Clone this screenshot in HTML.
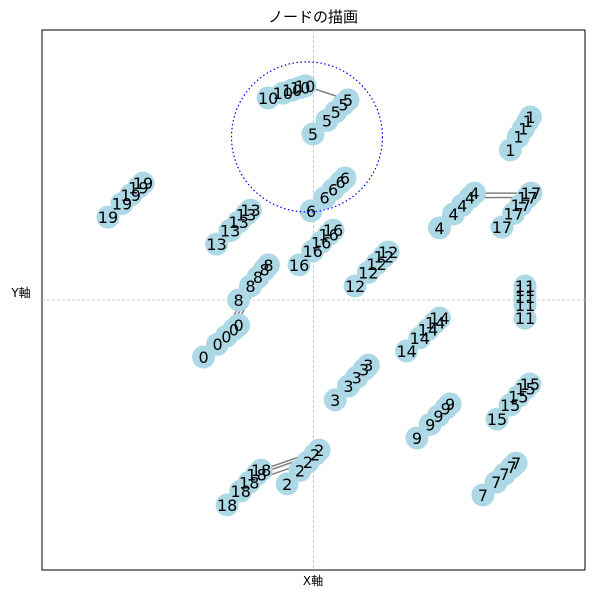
<!DOCTYPE html>
<html><head><meta charset="utf-8">
<style>
body{margin:0;background:#fff;}
svg text{font-family:"DejaVu Sans","Noto Sans CJK JP",sans-serif;}
</style></head>
<body>
<svg id="chart" width="594" height="598" viewBox="0 0 594 598">
<text x="313" y="22" font-size="15" text-anchor="middle">ノードの描画</text>
<rect x="42" y="30" width="543" height="540" fill="none" stroke="#000" stroke-width="1"/>
<text x="313" y="585" font-size="12" text-anchor="middle">X軸</text>
<text x="21" y="297" font-size="12" text-anchor="middle">Y軸</text>
<g id="grid"></g><g id="edges"></g><g id="nodes"></g><g id="labels"></g>
</svg>
<script>
// cluster start / end positions in data coords (x,y in [-1,1])
const clusterIds = [0,1,2,3,4,5,6,7,8,9,10,11,12,13,14,15,16,17,18,19];
const startX = [-0.405,0.725,-0.097,0.080,0.464,-0.002,-0.009,0.624,-0.276,0.381,-0.167,0.779,0.153,-0.357,0.343,0.676,-0.053,0.694,-0.318,-0.757];
const startY = [-0.211,0.556,-0.681,-0.370,0.267,0.615,0.330,-0.722,0.0,-0.511,0.748,-0.067,0.052,0.207,-0.189,-0.441,0.130,0.270,-0.759,0.307];
const endX = [-0.276,0.799,0.021,0.202,0.593,0.127,0.116,0.746,-0.166,0.503,-0.031,0.779,0.275,-0.232,0.464,0.797,0.072,0.801,-0.193,-0.628];
const endY = [-0.093,0.678,-0.556,-0.241,0.396,0.741,0.452,-0.604,0.130,-0.385,0.793,0.052,0.178,0.333,-0.067,-0.311,0.259,0.396,-0.630,0.433];
const fracs = [0,0.4,0.65,0.87,1];
// edges: [clusterA,indexA,clusterB,indexB]
const edgesA = [10,0,0,0,2,2,2,4,4];
const edgesAi = [4,1,2,3,4,3,2,4,3];
const edgesB = [5,8,8,8,18,18,18,17,17];
const edgesBi = [4,1,2,3,4,3,2,4,3];
const ringCX = -0.024, ringCY = 0.604, ringRX = 0.278, ringRY = 0.278;

const X0=42,X1=585,Y0=570,Y1=30;
const sx=v=>X0+(v+1)/2*(X1-X0);
const sy=v=>Y0-(v+1)/2*(Y0-Y1);
const NS='http://www.w3.org/2000/svg';
function mk(t,a,p){const e=document.createElementNS(NS,t);for(const k in a)e.setAttribute(k,a[k]);p.appendChild(e);return e;}
const g=document.getElementById('grid');
let l=mk('line',{x1:sx(0),x2:sx(0),y1:Y1,y2:Y0,stroke:'#bbb','stroke-width':0.8,'stroke-dasharray':'3,2'},g);


l=mk('line',{x1:X0,x2:X1,y1:sy(0),y2:sy(0),stroke:'#bbb','stroke-width':0.8,'stroke-dasharray':'3,2'},g);


function pos(c,i){const f=fracs[i];return [sx(startX[c]+(endX[c]-startX[c])*f), sy(startY[c]+(endY[c]-startY[c])*f)];}
const ge=document.getElementById('edges');
for(let k=0;k<edgesA.length;k++){
 const a=pos(edgesA[k],edgesAi[k]),b=pos(edgesB[k],edgesBi[k]);
 const e=mk('line',{x1:a[0],y1:a[1],x2:b[0],y2:b[1],stroke:'#808080','stroke-width':1.5},ge);
 
 
}
const gn=document.getElementById('nodes'),gl=document.getElementById('labels');
for(let c=0;c<clusterIds.length;c++){
 for(let i=0;i<fracs.length;i++){
  const p=pos(c,i);
  const n=mk('circle',{cx:p[0],cy:p[1],r:11.5,fill:'#add8e6'},gn);
  
  
  const t=mk('text',{x:p[0],y:p[1]+6,'font-size':16,'text-anchor':'middle',fill:'#000'},gl);
  t.textContent=clusterIds[c];
  
  
 }
}
const r=mk('ellipse',{cx:sx(ringCX),cy:sy(ringCY),rx:ringRX*(X1-X0)/2,ry:ringRY*(Y0-Y1)/2,fill:'none',stroke:'#0000ff','stroke-width':1.2,'stroke-dasharray':'1.5,2.5'},document.getElementById('chart'));


</script>
</body></html>
